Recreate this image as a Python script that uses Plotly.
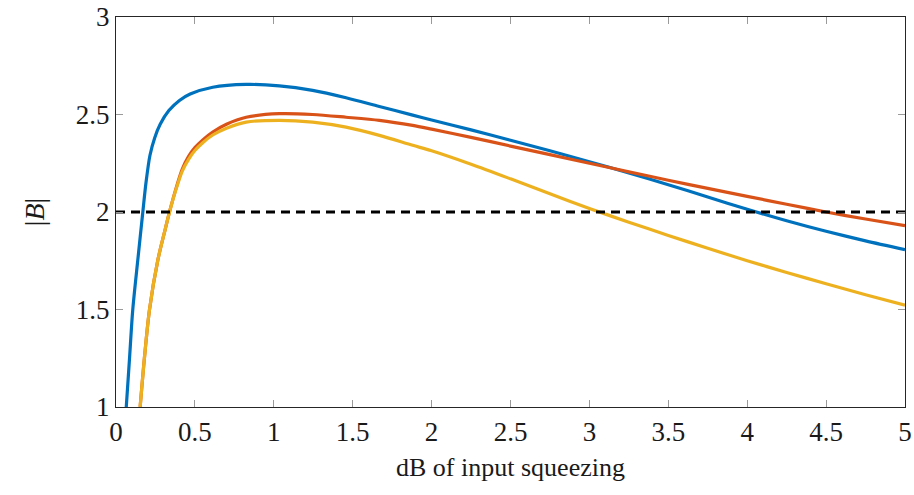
import plotly.graph_objects as go

# Data
blue_x = [0.065, 0.085, 0.106, 0.138, 0.17, 0.19, 0.215, 0.245, 0.28, 0.335, 0.402, 0.47, 0.613, 0.825,
          1.035, 1.246, 1.458, 1.669, 1.88, 2.0, 2.25, 2.5, 2.75, 3.0, 3.25, 3.5, 3.75, 4.0, 4.25,
          4.5, 4.75, 5.0]
blue_y = [1.0, 1.24, 1.497, 1.753, 2.0, 2.15, 2.29, 2.38, 2.45, 2.52, 2.572, 2.605, 2.640, 2.654,
          2.647, 2.624, 2.586, 2.541, 2.497, 2.472, 2.421, 2.368, 2.314, 2.258, 2.2, 2.14, 2.077, 2.014, 1.955,
          1.901, 1.852, 1.807]

orange_x = [0.153, 0.18, 0.212, 0.265, 0.307, 0.339, 0.38, 0.42, 0.46, 0.5, 0.55, 0.613, 0.7, 0.825,
            1.035, 1.246, 1.458, 1.669, 1.88, 2.0, 2.25, 2.5, 2.75, 3.0, 3.25, 3.5, 3.75, 4.0, 4.25,
            4.5, 4.75, 5.0]
orange_y = [1.0, 1.25, 1.497, 1.753, 1.895, 2.0, 2.12, 2.22, 2.285, 2.33, 2.37, 2.41, 2.45, 2.486,
            2.504, 2.50, 2.486, 2.47, 2.444, 2.425, 2.383, 2.338, 2.294, 2.25, 2.206, 2.163, 2.121, 2.08, 2.04,
            2.0, 1.964, 1.93]

yellow_x = [0.153, 0.18, 0.212, 0.265, 0.307, 0.339, 0.38, 0.42, 0.46, 0.5, 0.55, 0.613, 0.7, 0.825,
            1.035, 1.246, 1.458, 1.669, 1.88, 2.0, 2.25, 2.5, 2.75, 3.0, 3.25, 3.5, 3.75, 4.0, 4.25,
            4.5, 4.75, 5.0]
yellow_y = [1.0, 1.25, 1.497, 1.753, 1.895, 2.0, 2.115, 2.21, 2.27, 2.315, 2.355, 2.395, 2.43, 2.461,
            2.47, 2.461, 2.435, 2.393, 2.342, 2.314, 2.245, 2.17, 2.093, 2.018, 1.948, 1.88, 1.814, 1.75, 1.69,
            1.632, 1.576, 1.522]

threshold_x = [0, 5]
threshold_y = [2, 2]

x_ticks = [0, 0.5, 1, 1.5, 2, 2.5, 3, 3.5, 4, 4.5, 5]
x_tick_labels = ["0", "0.5", "1", "1.5", "2", "2.5", "3", "3.5", "4", "4.5", "5"]
y_ticks = [1, 1.5, 2, 2.5, 3]
y_tick_labels = ["1", "1.5", "2", "2.5", "3"]

FONT = "Liberation Serif, Times New Roman, serif"

fig = go.Figure()
for xs, ys, col in [(blue_x, blue_y, "#0072BD"),
                    (orange_x, orange_y, "#D95319"),
                    (yellow_x, yellow_y, "#EDB120")]:
    fig.add_trace(go.Scatter(x=xs, y=ys, mode="lines",
                             line=dict(color=col, width=3.2, shape="spline", smoothing=0.8),
                             showlegend=False, hoverinfo="skip"))

fig.add_trace(go.Scatter(x=threshold_x, y=threshold_y, mode="lines",
                         line=dict(color="black", width=3, dash="9px,6px"),
                         showlegend=False, hoverinfo="skip"))

axis_common = dict(
    showgrid=False, zeroline=False, automargin=False,
    showline=True, linecolor="#262626", linewidth=1.3, mirror="ticks",
    ticks="inside", ticklen=7, tickwidth=1, tickcolor="#9a9a9a",
    tickfont=dict(family=FONT, size=27, color="#1a1a1a"),
)

fig.update_xaxes(range=[0, 5], tickvals=x_ticks, ticktext=x_tick_labels,
                 title=dict(text="dB of input squeezing", font=dict(family=FONT, size=26, color="#1a1a1a"), standoff=12),
                 **axis_common)
fig.update_yaxes(range=[1, 3], tickvals=y_ticks, ticktext=y_tick_labels,
                 title=dict(text="|<i>B</i>|", font=dict(family=FONT, size=28, color="#1a1a1a"), standoff=22),
                 **axis_common)

fig.update_layout(
    width=914, height=495,
    margin=dict(l=116, r=9, t=17, b=88),
    plot_bgcolor="white", paper_bgcolor="white",
)

fig.write_html("out.html")
